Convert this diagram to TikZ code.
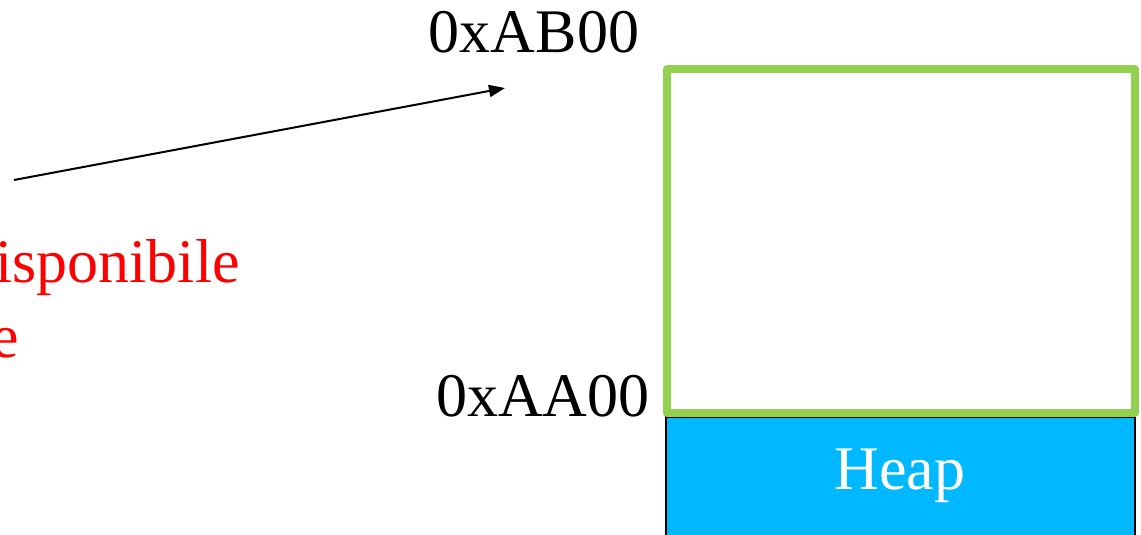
\documentclass[tikz,border=0pt]{standalone}
\usepackage{fontspec}
\setmainfont{Liberation Serif}
\usetikzlibrary{arrows.meta}
\definecolor{heapblue}{HTML}{00B8FF}
\definecolor{freegreen}{HTML}{92D050}
\tikzset{
  lbl/.style={inner sep=0pt, font=\fontsize{62}{75}\selectfont},
  redlbl/.style={lbl, text=red},
  ptr/.style={line width=2pt, -{Triangle[length=16pt,width=12pt]}},
}
\begin{document}
\begin{tikzpicture}[x=1pt,y=-1pt]
\useasboundingbox (0,0) rectangle (1141,535);
\clip (0,0) rectangle (1141,535);
% heap block
\node[draw=black, line width=1.2pt, fill=heapblue, minimum width=469pt, minimum height=140pt, inner sep=0pt, outer sep=0pt, anchor=north west] (heap) at (666,417) {};
\node[lbl, text=white, anchor=base] (heaplbl) at (900,489) {Heap};
% free region
\node[draw=freegreen, line width=8pt, line join=round, minimum width=468pt, minimum height=344pt, inner sep=0pt, outer sep=0pt, anchor=north west] (free) at (667,69) {};
% addresses
\node[lbl, anchor=base] (ab) at (534,53) {0xAB00};
\node[lbl, anchor=base] (aa) at (543,416) {0xAA00};
% red label (cut off at left, as in the reference)
\node[redlbl, anchor=base east] (red1) at (240,282) {disponibile};
\node[redlbl, anchor=base west] (red2) at (-9,357) {e};
% arrow
\coordinate (astart) at (14,180);
\coordinate (aend) at (505,88);
\draw[ptr] (astart) -- (aend);
\end{tikzpicture}
\end{document}
